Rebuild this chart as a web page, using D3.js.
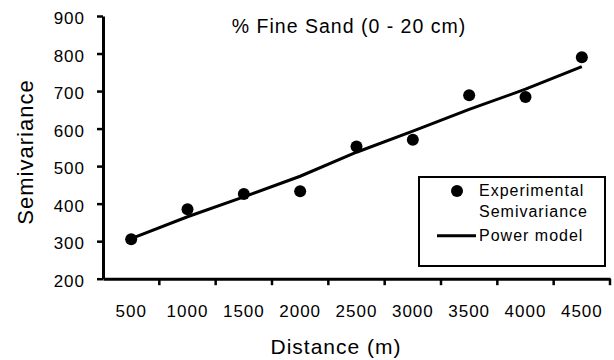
<!DOCTYPE html>
<html>
<head>
<meta charset="utf-8">
<script src="https://cdn.jsdelivr.net/npm/d3@7"></script>
<style>
  body { margin: 0; background: #fff; }
  text { font-family: Arial, 'Liberation Sans', sans-serif; fill: #000; }
</style>
</head>
<body>
<script>
// semivariogram

var distances = ['500', '1000', '1500', '2000', '2500', '3000', '3500', '4000', '4500'];
var experimental = [305, 385, 426, 433, 552, 570, 689, 684, 790];
var powerModel = [307, 365, 418, 473, 537, 593, 651, 705, 765];
var yTicks = [200, 300, 400, 500, 600, 700, 800, 900];

var width = 614;
var height = 360;

var svg = d3.select('body').append('svg')
  .attr('width', width)
  .attr('height', height)

var x = d3.scaleBand()
  .domain(distances)
  .range([103, 610])
  .padding(0)

var y = d3.scaleLinear()
  .domain([200, 900])
  .range([278.7, 16])

var cx = function(d) { return x(d) + x.bandwidth() / 2 };

// y axis
var yAxis = svg.append('g')
  .attr('transform', 'translate(103,0)')
  .call(d3.axisLeft(y).tickValues(yTicks).tickSize(6).tickSizeOuter(0).tickPadding(12))
yAxis.select('.domain').attr('stroke-width', 3)
yAxis.selectAll('.tick line').attr('stroke-width', 2.5)
yAxis.selectAll('.tick text')
  .attr('font-size', 17)
  .attr('letter-spacing', 1)
  .attr('dy', '0.45em')

// x axis: labels at band centres, ticks at band edges
var xAxis = svg.append('g')
  .attr('transform', 'translate(0,278.7)')
  .call(d3.axisBottom(x).tickSize(0).tickSizeOuter(0).tickPadding(26))
xAxis.select('.domain').attr('stroke-width', 3)
xAxis.selectAll('.tick text')
  .attr('font-size', 17)
  .attr('letter-spacing', 1)

var edges = distances.map(function(d) { return x(d) }).concat([x.range()[1]]);
xAxis.selectAll('.edge')
  .data(edges.slice(1))
  .enter().append('line')
  .attr('class', 'edge')
  .attr('x1', function(d) { return d })
  .attr('x2', function(d) { return d })
  .attr('y1', 0)
  .attr('y2', 6.5)
  .attr('stroke', '#000')
  .attr('stroke-width', 2.5)

// power model line
var line = d3.line()
  .x(function(d, i) { return cx(distances[i]) })
  .y(function(d) { return y(d) })

svg.append('path')
  .datum(powerModel)
  .attr('d', line)
  .attr('fill', 'none')
  .attr('stroke', '#000')
  .attr('stroke-width', 3)

// experimental points
svg.selectAll('circle.pt')
  .data(experimental)
  .enter().append('circle')
  .attr('class', 'pt')
  .attr('cx', function(d, i) { return cx(distances[i]) })
  .attr('cy', function(d) { return y(d) })
  .attr('r', 6)
  .attr('fill', '#000')

// titles
svg.append('text')
  .attr('x', 349)
  .attr('y', 33)
  .attr('text-anchor', 'middle')
  .attr('font-size', 19.5)
  .attr('letter-spacing', 1)
  .text('% Fine Sand (0 - 20 cm)')

svg.append('text')
  .attr('x', 336)
  .attr('y', 354)
  .attr('text-anchor', 'middle')
  .attr('font-size', 21)
  .attr('letter-spacing', 1)
  .text('Distance (m)')

svg.append('text')
  .attr('transform', 'translate(33,152) rotate(-90)')
  .attr('text-anchor', 'middle')
  .attr('font-size', 22)
  .attr('letter-spacing', 1)
  .text('Semivariance')

// legend
var legend = svg.append('g')

legend.append('rect')
  .attr('x', 419)
  .attr('y', 177)
  .attr('width', 186)
  .attr('height', 89)
  .attr('fill', '#fff')
  .attr('stroke', '#000')
  .attr('stroke-width', 2)

legend.append('circle')
  .attr('cx', 457)
  .attr('cy', 191)
  .attr('r', 6)
  .attr('fill', '#000')

legend.append('line')
  .attr('x1', 437)
  .attr('x2', 476)
  .attr('y1', 235.7)
  .attr('y2', 235.7)
  .attr('stroke', '#000')
  .attr('stroke-width', 3)

var legendText = [['Experimental', 196], ['Semivariance', 217], ['Power model', 241]];
legend.selectAll('text')
  .data(legendText)
  .enter().append('text')
  .attr('x', 479)
  .attr('y', function(d) { return d[1] })
  .attr('font-size', 16)
  .attr('letter-spacing', 1)
  .text(function(d) { return d[0] })
</script>
</body>
</html>
